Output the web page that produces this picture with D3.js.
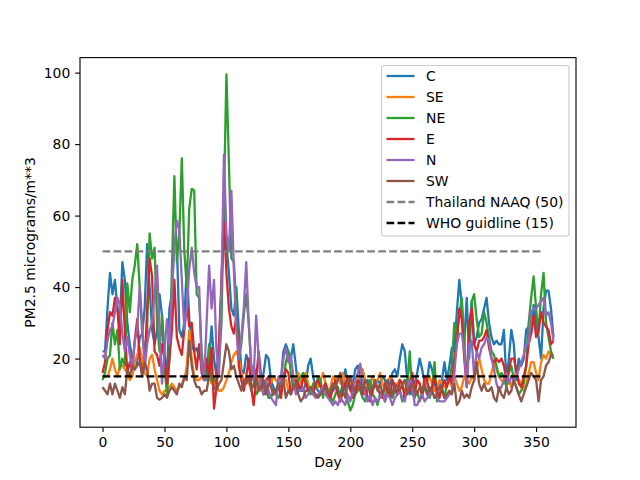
<!DOCTYPE html>
<html>
<head>
<meta charset="utf-8">
<script src="https://cdn.jsdelivr.net/npm/d3@7"></script>
<style>
html,body{margin:0;padding:0;background:#fff;}
svg{display:block;}
text{font-family:"DejaVu Sans",sans-serif;fill:#000;}
</style>
</head>
<body>
<svg id="chart" width="640" height="480"></svg>
<script>
const days = d3.range(0, 365, 2);
const xTicks = [0,50,100,150,200,250,300,350];
const yTicks = [20,40,60,80,100];
const C = [
22,22,34,44,38,42,34,30,47,42,
30,24,20,17,19,26,27,34,52,40,
28,24,28,38,32,22,14,34,38,54,
52,28,26,30,46,31,24,22,23,20,
20,14,14,20,29,20,15,24,40,64,
52,44,34,32,40,28,17,16,21,19,
14,18,15,13,12,16,21,20,14,12,
10,12,14,22,24,22,20,24,18,12,
11,11,13,18,20,15,12,11,10,12,
13,11,10,11,12,11,10,13,17,13,
11,13,17,18,15,12,13,14,12,11,
13,14,13,15,14,11,13,16,17,15,
20,24,22,14,10,12,13,16,20,17,
13,14,19,17,13,11,12,14,19,14,
18,23,22,33,42,35,24,37,20,36,
24,26,30,31,34,37,30,26,24,25,
24,24,28,14,20,28,24,14,20,18,
20,28,29,27,35,30,26,20,34,39,
39,34,26];
const SE = [
15,15,15,17,20,17,15,18,18,17,
16,14,15,19,21,23,20,16,15,20,
21,17,14,11,10,11,11,12,13,12,
11,12,13,14,18,28,20,15,14,14,
15,14,15,15,13,14,12,11,11,12,
14,16,19,21,22,20,16,14,14,13,
12,12,14,15,11,13,14,14,13,15,
14,13,15,14,14,11,12,15,14,16,
13,15,16,13,11,12,13,12,14,16,
13,11,12,15,14,15,13,16,12,13,
14,13,11,13,15,17,14,12,13,15,
12,14,16,13,11,13,15,14,12,13,
14,12,11,13,15,13,12,14,13,11,
12,14,15,13,11,12,14,13,12,13,
14,12,15,13,11,12,15,14,13,15,
14,17,20,17,14,13,13,16,19,17,
15,14,13,15,14,12,15,16,14,13,
11,13,16,19,19,16,14,19,21,20,
22,21,20];
const NE = [
14,16,20,21,30,24,28,17,20,18,
41,33,42,46,52,40,27,21,28,55,
48,51,30,22,32,18,10,20,45,71,
47,55,76,50,40,62,67.5,67,38,37,
22,14,16,24,14,15,13,18,30,65,
99.5,75,48,47,35,20,24,32,38,30,
18,14,10,11,13,10,12,9,9,11,
10,9,11,14,19,22,16,12,13,14,
15,16,14,11,10,13,12,15,14,9,
13,11,9,8,10,12,9,10,13,8,
5.5,7,10,13,11,9,8,12,14,10,
9,7,10,11,8,12,10,9,11,10,
11,8,10,13,22,10,9,11,8,10,
12,10,9,11,19,8,10,12,9,13,
14,18,30,27,32,37,25,13,26,36,
38,31,26,27,33,30,26,22,21,18,
15,16,15,12,16,18,14,12,10,11,
13,18,30,37,43,34,27,38,44,30,
26,22,20];
const E = [
16,19,28,33,32,37,34,24,42,28,
16,19,17,25,31,20,17,18,34,48,
43,22,21,18,24,20,13,20,28,42,
26,23,21,28,36,29,30,22,17,24,
16,14,20,15,23,6,12,24,42,58,
44,34,29,27,32,18,14,11,15,20,
12,7,14,22,15,10,14,15,12,10,
11,13,9,14,17,16,10,12,14,13,
11,15,13,11,12,10,13,14,12,11,
13,10,9,12,14,10,8,11,13,15,
12,9,11,14,13,10,12,9,8,11,
13,12,10,9,13,11,9,14,12,10,
14,13,9,12,11,16,10,14,13,9,
15,14,10,12,15,11,9,12,14,12,
15,13,20,24,34,31,20,12,30,34,
24,22,25,25,26,28,23,20,19,20,
19,20,18,14,17,20,20,17,13,12,
15,18,24,27,32,26,28,33,30,29,
28,24,25];
const N = [
21,20,25,28,29,33,37,35,27,22,
26,21,17,25,28,40,30,17,24,28,
30,38,46,28,13,22,31,24,38,52,
58.6,56,42,28,34,45,51,44,40,40,
18,14,30,46,34,42,22,15,40,77,
55,50,67,45,28,20,26,34,47,30,
18,14,32,20,12,10,14,11,9,8,
7,15,14,20,23,19,21,15,10,11,
11,12,9,10,12,10,9,10,11,12,
10,9,8,7,8,7,9,8,7,10,
8,11,14,16,18.6,14,10,8,10,7,
9,8,9,11,8,10,9,7,9,10,
11,9,8,12,14,13,7,7,9,10,
8,9,10,11,9,9,8,8,8,9,
10,11,16,24,27,27,22,12,24,25,
15,22,20,23,24,26,25,20,17,13,
11,12,14,16,13,15,14,15,17,19,
21,24,24,33,34,34,35,36,37,32,
33,30,25];
const SW = [
12,11,10,13,10,13,11,9,12,10,
17,15,18,17,18,19,15,19,17,11,
13,13,9,8.5,9,10,9,11,12,11,
10,13,12,15,14,25,18,14,12,12,
10,11,11,15,15,12,11,13,14,19,
24,22,17,18,15,13,11,14,13,15,
11,13,15,11,12,14,10,13,12,10,
11,13,12,14,9,11,10,12,13,10,
8,9,11,11,12,11,10,9,10,11,
12,10,11,13,12,14,16,11,9,14,
15,12,10,11,13,11,14,13,10,12,
14,11,13,10,12,14,11,10,13,12,
11,13,14,10,12,13,11,10,12,11,
13,10,12,11,9,10,12,11,9,10,
11,10,13,7,8,11,9,10,9,12,
14,19,13,11,13,11,11,12,9,8,
12,10,9,12,10,11,14,12,10,8,
10,12,14,16,15,14,8,14,15,18,
19,21,21];
const seriesNames = ["C","SE","NE","E","N","SW"];
const seriesValues = [C,SE,NE,E,N,SW];
const seriesColors = ["#1f77b4","#ff7f0e","#2ca02c","#d62728","#9467bd","#8c564b"];
const refNames = ["Thailand NAAQ (50)","WHO guidline (15)"];
const refValues = [50,15];
const refDays = [0,354];
const refColors = ["#7f7f7f","#000000"];

const svg = d3.select("#chart");
const L=80,R=576,T=57.6,B=427.2;
const x = d3.scaleLinear().domain([-18.2,382.2]).range([L,R]);
const y = d3.scaleLinear().domain([0.8,104.2]).range([B,T]);
const line = d3.line().x(d=>x(d[0])).y(d=>y(d[1])).curve(d3.curveLinear);

seriesValues.forEach((vals,i)=>{
  svg.append("path")
    .attr("d",line(vals.map((v,j)=>[days[j],v])))
    .attr("fill","none").attr("stroke",seriesColors[i])
    .attr("stroke-width",2.3).attr("stroke-linejoin","round");
});
refValues.forEach((v,i)=>{
  svg.append("path")
    .attr("d",line(refDays.map(d=>[d,v])))
    .attr("fill","none").attr("stroke",refColors[i])
    .attr("stroke-width",2.3).attr("stroke-dasharray","7.7 3.33");
});

const xAxis = d3.axisBottom(x).tickValues(xTicks).tickFormat(d3.format("d")).tickSize(4.86).tickPadding(4.86).tickSizeOuter(0);
const yAxis = d3.axisLeft(y).tickValues(yTicks).tickFormat(d3.format("d")).tickSize(4.86).tickPadding(4.86).tickSizeOuter(0);
const gx = svg.append("g").attr("transform",`translate(0,${B})`).call(xAxis);
const gy = svg.append("g").attr("transform",`translate(${L},0)`).call(yAxis);
[gx,gy].forEach(g=>{
  g.select(".domain").remove();
  g.selectAll("line").attr("stroke","#000").attr("stroke-width",1.11);
  g.selectAll("text").attr("font-size",13.9).attr("font-family","DejaVu Sans").attr("fill","#000");
});
svg.append("rect").attr("x",L).attr("y",T).attr("width",R-L).attr("height",B-T)
  .attr("fill","none").attr("stroke","#000").attr("stroke-width",1.11);

svg.append("text").attr("x",(L+R)/2).attr("y",467).attr("text-anchor","middle").attr("font-size",13.9).text("Day");
svg.append("text").attr("transform",`translate(35,${(T+B)/2}) rotate(-90)`).attr("text-anchor","middle").attr("font-size",13.9).text("PM2.5 micrograms/m**3");

const legendNames = seriesNames.concat(refNames);
const legendColors = seriesColors.concat(refColors);
const lg = svg.append("g");
lg.append("rect").attr("x",381.5).attr("y",65.5).attr("width",187.5).attr("height",170.5).attr("rx",2.8)
  .attr("fill","#fff").attr("fill-opacity",0.8).attr("stroke","#ccc").attr("stroke-width",1.11);
legendNames.forEach((n,i)=>{
  const yy = 76 + i*21;
  lg.append("line").attr("x1",386.5).attr("x2",414.5).attr("y1",yy).attr("y2",yy)
    .attr("stroke",legendColors[i]).attr("stroke-width",2.3)
    .attr("stroke-dasharray",i>=6?"7.7 3.33":null);
  lg.append("text").attr("x",426).attr("y",yy+5).attr("font-size",13.9).text(n);
});
</script>
</body>
</html>
